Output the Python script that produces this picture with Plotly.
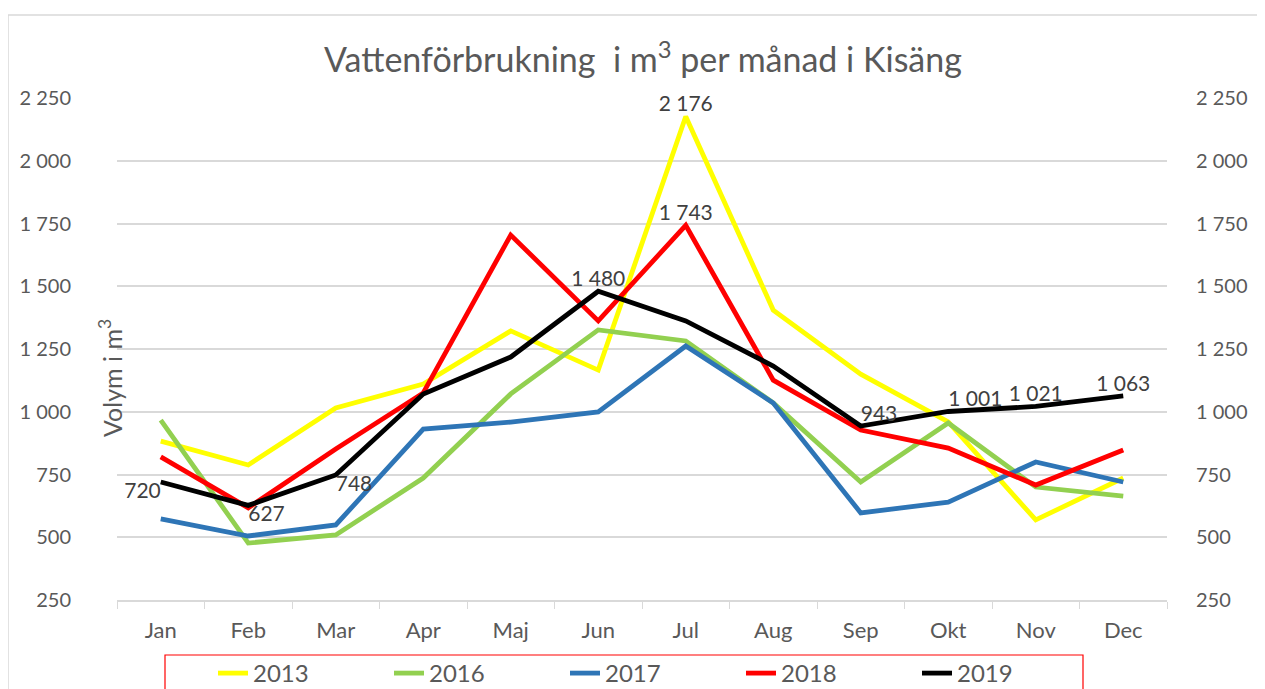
import plotly.graph_objects as go

months = ["Jan", "Feb", "Mar", "Apr", "Maj", "Jun", "Jul", "Aug", "Sep", "Okt", "Nov", "Dec"]
v2013 = [883, 788, 1015, 1110, 1322, 1166, 2176, 1405, 1150, 960, 569, 736]
v2016 = [967, 477, 509, 736, 1071, 1326, 1282, 1035, 720, 955, 700, 664]
v2017 = [573, 505, 549, 931, 959, 999, 1262, 1035, 597, 640, 800, 720]
v2018 = [820, 617, 852, 1075, 1704, 1362, 1743, 1126, 927, 855, 708, 848]
v2019 = [720, 627, 748, 1071, 1218, 1480, 1362, 1182, 943, 1001, 1021, 1063]

series = [
    ("2013", v2013, "#FFFF00", [6]),
    ("2016", v2016, "#92D050", []),
    ("2017", v2017, "#2E75B6", []),
    ("2018", v2018, "#FF0000", [6]),
    ("2019", v2019, "#000000", [0, 1, 2, 5, 8, 9, 10, 11]),
]
label_pos_2019 = {0: "bottom left", 1: "bottom right", 2: "bottom right", 5: "top center",
                  8: "top right", 9: "top right", 10: "top center", 11: "top center"}

def fmt(v):
    return f"{v:,}".replace(",", " ")

fig = go.Figure()
for name, vals, color, lab in series:
    texts = [fmt(v) if i in lab else " " for i, v in enumerate(vals)]
    if name == "2019":
        pos = [label_pos_2019.get(i, "top center") for i in range(len(vals))]
    else:
        pos = ["top center"] * len(vals)
    fig.add_trace(go.Scatter(
        x=months, y=vals, name=name, mode="lines+text",
        line=dict(color=color, width=4.8),
        text=texts, textposition=pos, cliponaxis=False,
        textfont=dict(size=21, color="#404040", family="Lato"),
        hoverinfo="x+y+name",
    ))

# invisible trace for the right axis
fig.add_trace(go.Scatter(x=months, y=v2019, yaxis="y2", mode="lines",
                         line=dict(width=0), showlegend=False, hoverinfo="skip"))

# page offset of the plotly div inside the html body
OFF = 8
FW, FH = 1265 - OFF, 689 - OFF
L, R, T, B = 117 - OFF, 1167 - OFF, 98 - OFF, 600 - OFF
W, H = R - L, B - T

ticks = [250, 500, 750, 1000, 1250, 1500, 1750, 2000, 2250]

fig.update_layout(
    width=FW, height=FH,
    margin=dict(l=L, r=FW - R, t=T, b=FH - B, autoexpand=False),
    paper_bgcolor="white", plot_bgcolor="white",
    separators=". ",
    font=dict(family="Lato", color="#595959"),
    title=dict(text="Vattenförbrukning  i m<sup>3</sup> per månad i Kisäng",
               x=(643 - OFF) / FW, xanchor="center", y=1 - (60 - OFF) / FH, yanchor="middle",
               font=dict(size=34, color="#595959", family="Lato")),
    xaxis=dict(type="category", tickson="boundaries", ticks="outside", ticklen=7,
               tickcolor="#d9d9d9", showline=True, linecolor="#d9d9d9", linewidth=1.5,
               showgrid=False, tickfont=dict(size=22, color="#595959"), range=[-0.5, 11.5],
               ticklabelstandoff=10),
    yaxis=dict(range=[250, 2250], tickvals=ticks,
               tickformat=",d", showgrid=True, gridcolor="#d9d9d9", gridwidth=1.5,
               zeroline=False, tickfont=dict(size=20, color="#595959"), ticklabelstandoff=45),
    yaxis2=dict(range=[250, 2250], tickvals=ticks,
                tickformat=",d", overlaying="y", side="right", showgrid=False, zeroline=False,
                tickfont=dict(size=20, color="#595959"), ticklabelstandoff=28),
    legend=dict(orientation="h", x=(653 - OFF - L) / W, xanchor="center",
                y=-(651 - OFF - B) / H, yanchor="top",
                borderwidth=0, bgcolor="rgba(0,0,0,0)", font=dict(size=24, color="#595959"),
                entrywidth=131, entrywidthmode="pixels", itemwidth=30),
    showlegend=True,
)

fig.add_annotation(text="Volym i m<sup>3</sup>", textangle=-90, xref="paper", yref="paper",
                   x=(110 - OFF - L) / W, xanchor="center", y=(B - (378 - OFF)) / H, yanchor="middle",
                   showarrow=False, font=dict(size=25, color="#595959"))

# outer chart border
fig.add_shape(type="rect", xref="paper", yref="paper",
              x0=(8 - OFF - L) / W, x1=(1275 - OFF - L) / W, y0=(B - 700) / H, y1=(B - (15 - OFF)) / H,
              line=dict(color="#d9d9d9", width=1.5), fillcolor="rgba(0,0,0,0)", layer="below")

# legend frame
fig.add_shape(type="rect", xref="paper", yref="paper",
              x0=(165 - OFF - L) / W, x1=(1083 - OFF - L) / W,
              y0=(B - 700) / H, y1=(B - (655 - OFF)) / H,
              line=dict(color="#FF0000", width=1.2), fillcolor="rgba(0,0,0,0)", layer="above")

fig.write_html("out.html")
